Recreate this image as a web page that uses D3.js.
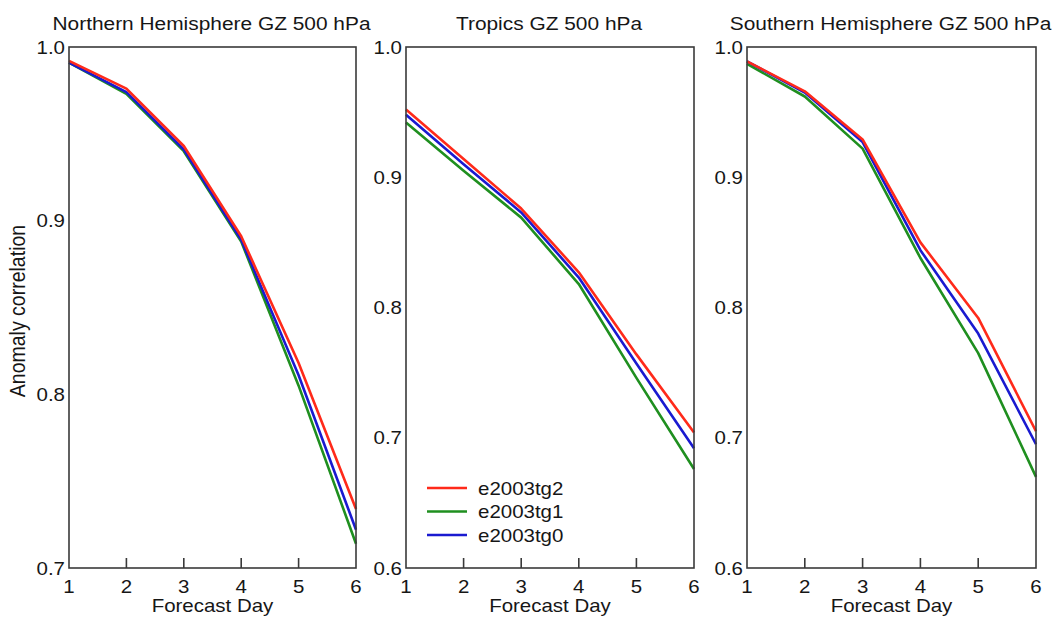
<!DOCTYPE html>
<meta charset="utf-8">
<style>
  body { margin: 0; background: #fff; }
  svg text { font-family: "Liberation Sans", Arial, sans-serif; fill: #161616; }
</style>
<body>
<div id="chart"></div>
<script src="https://d3js.org/d3.v7.min.js"></script>
<script>

// data
var days = [1, 2, 3, 4, 5, 6];
var seriesNames = ["e2003tg2", "e2003tg1", "e2003tg0"];
var seriesColors = ["#ff2a1a", "#1f8f1f", "#1a1ad0"];

var nhTg2 = [0.992, 0.976, 0.943, 0.891, 0.818, 0.734];
var nhTg1 = [0.991, 0.973, 0.940, 0.888, 0.805, 0.714];
var nhTg0 = [0.991, 0.974, 0.941, 0.889, 0.811, 0.722];

var trTg2 = [0.952, 0.914, 0.876, 0.827, 0.764, 0.704];
var trTg1 = [0.942, 0.905, 0.869, 0.818, 0.746, 0.676];
var trTg0 = [0.948, 0.910, 0.873, 0.823, 0.757, 0.692];

var shTg2 = [0.989, 0.966, 0.929, 0.850, 0.792, 0.705];
var shTg1 = [0.987, 0.962, 0.922, 0.838, 0.765, 0.670];
var shTg0 = [0.989, 0.965, 0.927, 0.844, 0.780, 0.695];

var titles = ["Northern Hemisphere GZ 500 hPa", "Tropics GZ 500 hPa", "Southern Hemisphere GZ 500 hPa"];
var yDomains = [[0.7, 1.0], [0.6, 1.0], [0.6, 1.0]];
var yTickVals = [[0.7, 0.8, 0.9, 1.0], [0.6, 0.7, 0.8, 0.9, 1.0], [0.6, 0.7, 0.8, 0.9, 1.0]];
var panelSeries = [[nhTg2, nhTg1, nhTg0], [trTg2, trTg1, trTg0], [shTg2, shTg1, shTg0]];

var width = 1055, height = 617;
var top_y = 47, bottom_y = 568;
var lefts = [69, 406, 747];
var rights = [356, 694, 1036];
var stretch = 1.17;   // the scanned figure is a bit wide

var svg = d3.select("#chart").append("svg")
  .attr("width", width)
  .attr("height", height);

// text that is stretched horizontally like in the scan
function label(g, x, y, txt, size, anchor, rotate, sx) {
  var k = sx || stretch;
  var t = "translate(" + x + "," + y + ")";
  if (rotate) t += " rotate(" + rotate + ") scale(1," + k + ")";
  else t += " scale(" + k + ",1)";
  return g.append("text")
    .attr("transform", t)
    .attr("text-anchor", anchor)
    .style("font-size", size + "px")
    .text(txt);
}

for (var p = 0; p < 3; p++) {
  var g = svg.append("g");
  var x = d3.scaleLinear().domain([1, 6]).range([lefts[p], rights[p]]);
  var y = d3.scaleLinear().domain(yDomains[p]).range([bottom_y, top_y]);

  // lines
  var line = d3.line().x((d, i) => x(days[i])).y(d => y(d));
  var order = [1, 2, 0];
  order.forEach(function(s) {
    g.append("path")
      .datum(panelSeries[p][s])
      .attr("fill", "none")
      .attr("stroke", seriesColors[s])
      .attr("stroke-width", 2.6)
      .attr("stroke-linejoin", "round")
      .attr("d", line);
  });

  // frame
  g.append("rect")
    .attr("x", lefts[p]).attr("y", top_y)
    .attr("width", rights[p] - lefts[p]).attr("height", bottom_y - top_y)
    .attr("fill", "none").attr("stroke", "#3a3a3a").attr("stroke-width", 1.6);

  // inward ticks on the bottom axis
  g.selectAll(".xt").data(days.slice(1, 5)).enter().append("line")
    .attr("x1", d => x(d)).attr("x2", d => x(d))
    .attr("y1", bottom_y).attr("y2", bottom_y - 10)
    .attr("stroke", "#3a3a3a").attr("stroke-width", 1.6);

  days.forEach(function(d) {
    label(g, x(d), bottom_y + 25, d, 17.5, "middle");
  });
  yTickVals[p].forEach(function(v) {
    label(g, lefts[p] - 4, y(v) + 6.5, v.toFixed(1), 17.5, "end");
  });

  label(g, (lefts[p] + rights[p]) / 2, 612, "Forecast Day", 17.5, "middle");
  label(g, (lefts[p] + rights[p]) / 2 - 1, 30, titles[p], 18.5, "middle", 0, 1.13);
}

label(svg, 25, 311, "Anomaly correlation", 19.5, "middle", -90);

// legend in the tropics panel
var legend = svg.append("g");
var legendY = d3.scalePoint().domain(seriesNames).range([488, 535]);
seriesNames.forEach(function(name, i) {
  legend.append("line")
    .attr("x1", 427).attr("x2", 467)
    .attr("y1", legendY(name)).attr("y2", legendY(name))
    .attr("stroke", seriesColors[i]).attr("stroke-width", 2.6);
  label(legend, 478, legendY(name) + 6.5, name, 17.5, "start");
});

</script>
</body>
